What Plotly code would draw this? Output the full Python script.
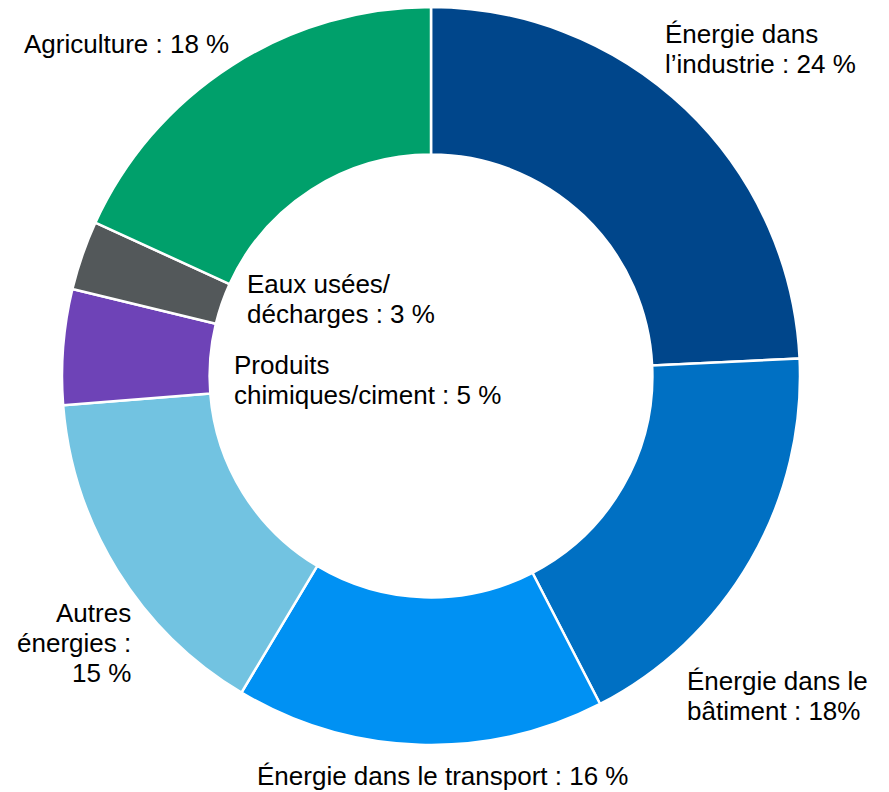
import plotly.graph_objects as go

# Emission shares by source (%), clockwise from 12 o'clock
sectors = [
    "Énergie dans l’industrie",
    "Énergie dans le bâtiment",
    "Énergie dans le transport",
    "Autres énergies",
    "Produits chimiques/ciment",
    "Eaux usées/décharges",
    "Agriculture",
]
shares = [24, 18, 16, 15, 5, 3, 18]
colors = ["#00468B", "#0070C3", "#0091F3", "#72C3E1", "#6E43B7", "#53585A", "#00A06B"]

# Label text, one list entry per line
label_lines = [
    ["Énergie dans", "l’industrie : 24 %"],
    ["Énergie dans le", "bâtiment : 18%"],
    ["Énergie dans le transport : 16 %"],
    ["Autres", "énergies :", "15 %"],
    ["Produits", "chimiques/ciment : 5 %"],
    ["Eaux usées/", "décharges : 3 %"],
    ["Agriculture : 18 %"],
]

W, H = 889, 792
cx, cy, r = 431, 376, 369
LINE_GAP = 30

fig = go.Figure(
    go.Pie(
        labels=sectors,
        values=shares,
        sort=False,
        direction="clockwise",
        rotation=0,
        hole=0.6,
        marker=dict(colors=colors, line=dict(color="white", width=2.5)),
        textinfo="none",
        hoverinfo="label+percent",
        showlegend=False,
        domain=dict(
            x=[(cx - r) / W, (cx + r) / W],
            y=[1 - (cy + r) / H, 1 - (cy - r) / H],
        ),
    )
)

# label placement in pixels: (x, first-line y, xanchor)
placements = [
    (663, 34, "left"),
    (685, 681, "left"),
    (442, 776, "center"),
    (133, 613, "right"),
    (232, 365, "left"),
    (245, 284, "left"),
    (22, 44, "left"),
]

for lines, (px, py, xa) in zip(label_lines, placements):
    for i, line in enumerate(lines):
        fig.add_annotation(
            x=px / W,
            y=1 - (py + i * LINE_GAP) / H,
            xref="paper",
            yref="paper",
            text=line,
            showarrow=False,
            xanchor=xa,
            yanchor="middle",
            align=xa if xa != "center" else "center",
            font=dict(family="Liberation Sans, Arial, sans-serif", size=26, color="#000000"),
        )

fig.update_layout(
    width=W,
    height=H,
    margin=dict(l=0, r=0, t=0, b=0),
    paper_bgcolor="white",
    plot_bgcolor="white",
)

fig.write_html("out.html")
